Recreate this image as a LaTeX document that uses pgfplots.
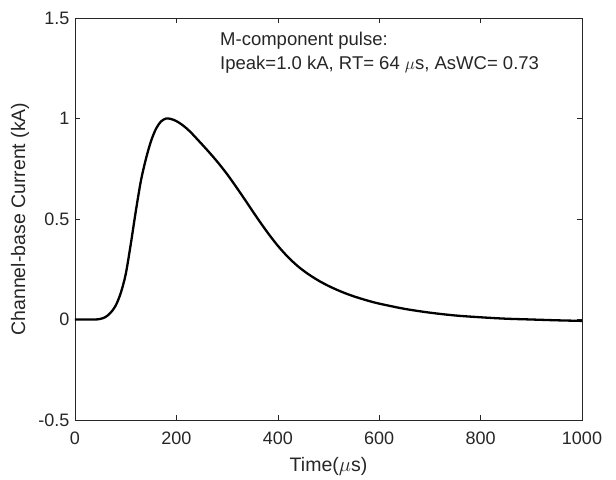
\documentclass[border=0pt]{standalone}
\usepackage{fontspec}
\setmainfont{Liberation Sans}
\usepackage{pgfplots}
\pgfplotsset{compat=1.18}
\definecolor{axgray}{gray}{0.15}
\begin{document}
\begin{tikzpicture}
\path[use as bounding box] (-75bp,-60bp) rectangle (541bp,420bp);
\begin{axis}[
  at={(0,0)}, anchor=south west,
  scale only axis,
  width=507bp, height=402bp,
  xmin=0, xmax=1000, ymin=-0.5, ymax=1.5,
  xtick={0,200,400,600,800,1000},
  ytick={-0.5,0,0.5,1,1.5},
  yticklabels={-0.5,0,0.5,1,1.5},
  xticklabels={0,200,400,600,800,1000},
  tick pos=both,
  tick align=inside,
  major tick length=5bp,
  axis line style={axgray, line width=0.6bp},
  every tick/.style={axgray, line width=0.6bp},
  tick label style={font=\fontsize{18bp}{20bp}\selectfont, text=axgray},
  xticklabel style={yshift=-8bp},
  yticklabel style={xshift=-2bp},
  label style={font=\fontsize{19.5bp}{22bp}\selectfont, text=axgray},
  xlabel={Time($\mu$s)},
  ylabel={Channel-base Current (kA)},
  xlabel style={at={(axis description cs:0.5,0)}, anchor=center, yshift=-46bp},
  ylabel style={at={(axis description cs:0,0.5)}, anchor=center, rotate=0, yshift=55bp},
  clip=true,
]
\addplot[black, line width=2.3bp, smooth, tension=0.5] coordinates {
(0,0) (20,0) (40,0) (50,0.003) (60,0.012) (70,0.033) (80,0.068) (90,0.13)
(100,0.225) (110,0.375) (120,0.54) (130,0.69) (140,0.80) (150,0.888)
(160,0.95) (170,0.986) (180,1.0) (190,0.997) (200,0.987) (210,0.971)
(220,0.951) (230,0.927) (240,0.90) (260,0.845) (280,0.787) (300,0.723)
(320,0.652) (340,0.578) (360,0.503) (380,0.432) (400,0.367) (420,0.311)
(440,0.264) (460,0.226) (480,0.194) (500,0.167) (520,0.144) (540,0.124)
(560,0.107) (580,0.092) (600,0.079) (650,0.053) (700,0.034) (750,0.02)
(800,0.011) (850,0.004) (900,0.0) (950,-0.004) (1000,-0.007)
};
\node[anchor=west, font=\fontsize{18.5bp}{21bp}\selectfont, text=black!85, inner sep=0pt]
  at (axis cs:286,1.386) {M-component pulse:};
\node[anchor=west, font=\fontsize{18.5bp}{21bp}\selectfont, text=black!85, inner sep=0pt]
  at (axis cs:286,1.267) {Ipeak=1.0 kA, RT= 64 $\mu$s, AsWC= 0.73};
\end{axis}
\end{tikzpicture}
\end{document}
